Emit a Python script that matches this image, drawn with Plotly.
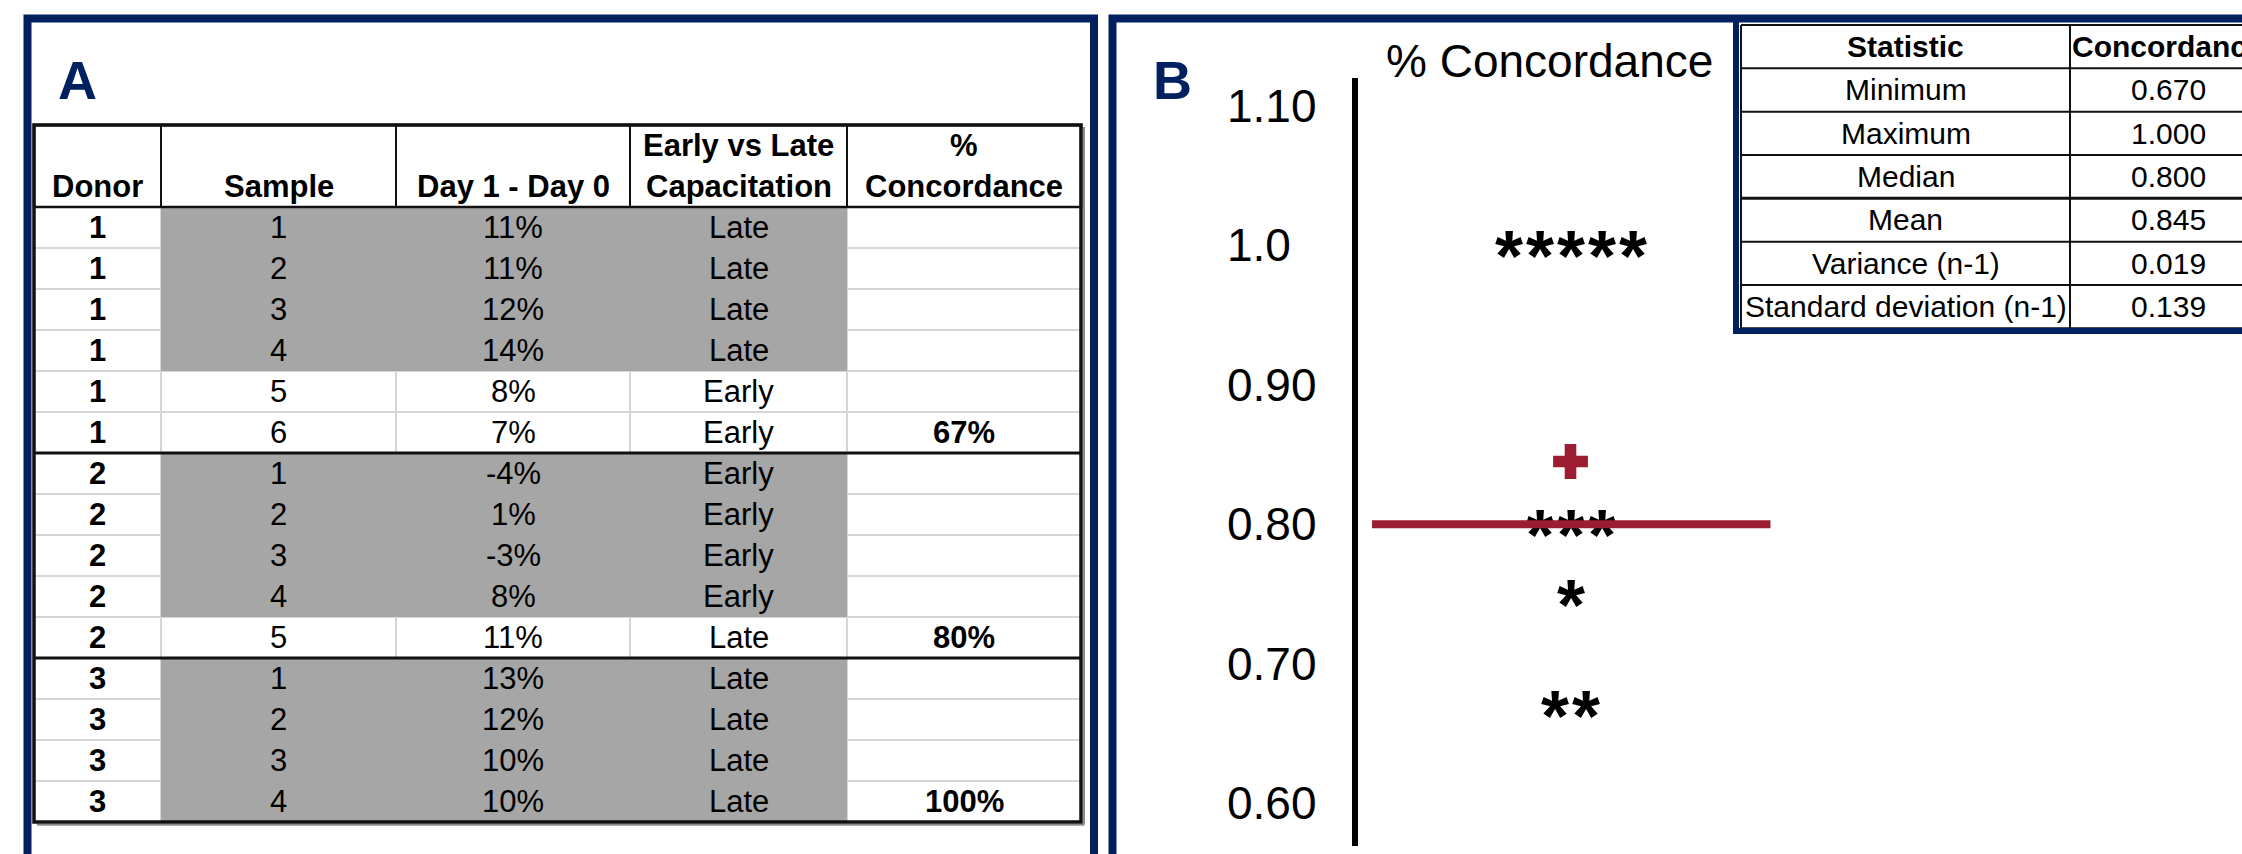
import plotly.graph_objects as go
from collections import Counter

W, H = 2242, 854
FONT = "Liberation Sans, Arial, Helvetica, sans-serif"
NAVY = "#002060"
RED = "#9c1c31"
GRAY_FILL = "#a6a6a6"
GRID_LIGHT = "#d6d6d6"

# ---------------- Panel A: per-sample capacitation table ----------------
donor = [1, 1, 1, 1, 1, 1, 2, 2, 2, 2, 2, 3, 3, 3, 3]
sample = [1, 2, 3, 4, 5, 6, 1, 2, 3, 4, 5, 1, 2, 3, 4]
day1_minus_day0 = [11, 11, 12, 14, 8, 7, -4, 1, -3, 8, 11, 13, 12, 10, 10]
capacitation = ["Late", "Late", "Late", "Late", "Early", "Early",
                "Early", "Early", "Early", "Early", "Late",
                "Late", "Late", "Late", "Late"]
highlighted = [1, 1, 1, 1, 0, 0, 1, 1, 1, 1, 0, 1, 1, 1, 1]
donor_ids = [1, 2, 3]
donor_concordance = [67, 80, 100]
header_top = ["", "", "", "Early vs Late", "%"]
header_bottom = ["Donor", "Sample", "Day 1 - Day 0", "Capacitation", "Concordance"]

# ---------------- Panel B: concordance dot plot + summary ----------------
concordance = [1.00, 1.00, 1.00, 1.00, 1.00, 0.80, 0.80, 0.80, 0.75, 0.67, 0.67]
stat_names = ["Minimum", "Maximum", "Median", "Mean",
              "Variance (n-1)", "Standard deviation (n-1)"]
stat_values = [0.670, 1.000, 0.800, 0.845, 0.019, 0.139]
stat_header = ["Statistic", "Concordance"]
tick_values = [1.10, 1.00, 0.90, 0.80, 0.70, 0.60]
tick_labels = ["1.10", "1.0", "0.90", "0.80", "0.70", "0.60"]

median_value = stat_values[stat_names.index("Median")]
mean_value = stat_values[stat_names.index("Mean")]


def xdomain(left_px, right_px):
    return [left_px / W, right_px / W]


def ydomain(top_px, bottom_px):
    return [1 - bottom_px / H, 1 - top_px / H]


fig = go.Figure()
shapes = []
annotations = []

# ======== Table A layout (x in pixels from the table edge, y in rows) ========
A_LEFT = 34
A_COL_W = [127, 235, 234, 217, 234]
A_BODY_TOP = 207
A_ROW_H = 41
col_edges = [0]
for w in A_COL_W:
    col_edges.append(col_edges[-1] + w)
col_mid = [(a + b) / 2 for a, b in zip(col_edges[:-1], col_edges[1:])]
n_rows = len(donor)
n_cols = len(A_COL_W)
t_right = col_edges[-1]

# gray highlight of sample / delta / capacitation cells
z = [[1 if (highlighted[i] and 1 <= j <= 3) else None for j in range(n_cols)]
     for i in range(n_rows)]
fig.add_trace(go.Heatmap(
    z=z, x=col_edges, y=list(range(n_rows + 1)),
    colorscale=[[0, GRAY_FILL], [1, GRAY_FILL]], zmin=0, zmax=1,
    showscale=False, hoverinfo="skip", xaxis="x2", yaxis="y2"))

# light cell grid (hidden beneath the gray fill)
for i in range(1, n_rows):
    shapes.append(dict(type="line", xref="x2", yref="y2", x0=0, x1=t_right, y0=i, y1=i,
                       line=dict(color=GRID_LIGHT, width=2), layer="below"))
for e in col_edges[1:-1]:
    shapes.append(dict(type="line", xref="x2", yref="y2", x0=e, x1=e, y0=0, y1=n_rows,
                       line=dict(color=GRID_LIGHT, width=2), layer="below"))

# header box and column separators
shapes.append(dict(type="rect", xref="x2", yref="y2", x0=0, x1=t_right, y0=-2, y1=0,
                   line=dict(color="#111111", width=2.5)))
for e in col_edges[1:-1]:
    shapes.append(dict(type="line", xref="x2", yref="y2", x0=e, x1=e, y0=-2, y1=0,
                       line=dict(color="#111111", width=2)))

# separators between donors
for i in range(1, n_rows):
    if donor[i] != donor[i - 1]:
        shapes.append(dict(type="line", xref="x2", yref="y2", x0=0, x1=t_right, y0=i, y1=i,
                           line=dict(color="#111111", width=3)))

# outer frame with a soft shadow
shapes.append(dict(type="line", xref="x2", yref="y2", x0=t_right + 3, x1=t_right + 3,
                   y0=-1.95, y1=n_rows + 0.07, line=dict(color="#8c8c8c", width=2)))
shapes.append(dict(type="line", xref="x2", yref="y2", x0=3, x1=t_right + 3,
                   y0=n_rows + 0.07, y1=n_rows + 0.07, line=dict(color="#8c8c8c", width=2)))
shapes.append(dict(type="rect", xref="x2", yref="y2", x0=0, x1=t_right, y0=-2, y1=n_rows,
                   line=dict(color="#111111", width=3.5)))

TXT_A = dict(family=FONT, size=31, color="black")


def cell_text(x, y, text, xref="x2", yref="y2", font=TXT_A):
    annotations.append(dict(x=x, y=y, xref=xref, yref=yref, text=text, showarrow=False,
                            xanchor="center", yanchor="middle", font=font))


for j in range(n_cols):
    if header_top[j]:
        cell_text(col_mid[j], -1.5, "<b>%s</b>" % header_top[j])
    cell_text(col_mid[j], -0.5, "<b>%s</b>" % header_bottom[j])

for i in range(n_rows):
    cell_text(col_mid[0], i + 0.5, "<b>%d</b>" % donor[i])
    cell_text(col_mid[1], i + 0.5, str(sample[i]))
    cell_text(col_mid[2], i + 0.5, "%d%%" % day1_minus_day0[i])
    cell_text(col_mid[3], i + 0.5, capacitation[i])
for d, c in zip(donor_ids, donor_concordance):
    last_row = max(i for i in range(n_rows) if donor[i] == d)
    cell_text(col_mid[4], last_row + 0.5, "<b>%d%%</b>" % c)

# ======== Panel B: concordance dot plot ========
B_CENTER_PX = 1570.5
B_UNIT_PX = 31
B_X_PX = (1358, 1790)
B_Y_PX = (78, 846)
Y_RANGE = [0.5692, 1.1201]

# spread equal values side by side around the centre
counts = Counter(concordance)
seen = {}
point_x = []
for v in concordance:
    k = seen.get(v, 0)
    seen[v] = k + 1
    point_x.append(k - (counts[v] - 1) / 2)

STAR = dict(family=FONT, size=72, color="black")
for px_, v in zip(point_x, concordance):
    annotations.append(dict(x=px_, y=v, xref="x", yref="y", text="<b>*</b>", showarrow=False,
                            xanchor="center", yanchor="middle", yshift=-11, font=STAR))

# mean marker
fig.add_trace(go.Scatter(x=[0], y=[mean_value], mode="markers", hoverinfo="skip",
                         marker=dict(symbol="cross", size=29, color=RED, line=dict(width=0)),
                         xaxis="x", yaxis="y", showlegend=False))

# median bar, drawn over the points
MEDIAN_HALF = 6.45
annotations.append(dict(x=MEDIAN_HALF, y=median_value, ax=-MEDIAN_HALF, ay=median_value,
                        xref="x", yref="y", axref="x", ayref="y", text="", showarrow=True,
                        arrowhead=0, arrowwidth=8, arrowcolor=RED, standoff=0,
                        startstandoff=0))

# axis tick labels (left aligned)
for tv, tl in zip(tick_values, tick_labels):
    annotations.append(dict(x=1225 / W, y=tv, xref="paper", yref="y", text=tl,
                            showarrow=False, xanchor="left", yanchor="middle",
                            font=dict(family=FONT, size=46, color="black")))

annotations.append(dict(x=1384 / W, y=1 - 60.5 / H, xref="paper", yref="paper",
                        text="% Concordance", showarrow=False, xanchor="left",
                        yanchor="middle", font=dict(family=FONT, size=46, color="black")))

# ======== Summary statistics table ========
S_LEFT = 1741
S_TOP = 25
S_ROW_H = 43.33
S_COL_EDGES = [0, 329, 525]
s_mid = [(a + b) / 2 for a, b in zip(S_COL_EDGES[:-1], S_COL_EDGES[1:])]
s_rows = len(stat_names) + 1

for r in range(s_rows + 1):
    shapes.append(dict(type="line", xref="x3", yref="y3", x0=0, x1=S_COL_EDGES[-1], y0=r, y1=r,
                       line=dict(color="#111111", width=3 if r == 4 else 2)))
for e in S_COL_EDGES[:-1]:
    shapes.append(dict(type="line", xref="x3", yref="y3", x0=e, x1=e, y0=0, y1=s_rows,
                       line=dict(color="#111111", width=2)))

for j, h in enumerate(stat_header):
    cell_text(s_mid[j], 0.5, "<b>%s</b>" % h, "x3", "y3",
              dict(family=FONT, size=30, color="black"))
for i, (nm, val) in enumerate(zip(stat_names, stat_values)):
    cell_text(s_mid[0], i + 1.5, nm, "x3", "y3", dict(family=FONT, size=30, color="black"))
    cell_text(s_mid[1], i + 1.5, "%.3f" % val, "x3", "y3",
              dict(family=FONT, size=30, color="black"))

# ======== Panel frames and letters ========
BORDER = 8
shapes.append(dict(type="rect", xref="paper", yref="paper",
                   x0=27.5 / W, x1=1094 / W, y0=-0.05, y1=1 - 18.5 / H,
                   line=dict(color=NAVY, width=BORDER)))
shapes.append(dict(type="rect", xref="paper", yref="paper",
                   x0=1112.5 / W, x1=1.05, y0=-0.05, y1=1 - 18.5 / H,
                   line=dict(color=NAVY, width=BORDER)))
shapes.append(dict(type="line", xref="paper", yref="paper",
                   x0=1736 / W, x1=1736 / W, y0=1 - 334 / H, y1=1 - 18 / H,
                   line=dict(color=NAVY, width=6)))
shapes.append(dict(type="line", xref="paper", yref="paper",
                   x0=1733 / W, x1=1.02, y0=1 - 331 / H, y1=1 - 331 / H,
                   line=dict(color=NAVY, width=6)))

for letter, lx in (("A", 56), ("B", 1151)):
    annotations.append(dict(x=lx / W, y=1 - 80 / H, xref="paper", yref="paper",
                            text="<b>%s</b>" % letter, showarrow=False, xanchor="left",
                            yanchor="middle", font=dict(family=FONT, size=54, color=NAVY)))

hidden = dict(visible=False, fixedrange=True)
fig.update_layout(
    width=W, height=H, autosize=False,
    margin=dict(l=0, r=0, t=0, b=0, pad=0),
    paper_bgcolor="white", plot_bgcolor="rgba(0,0,0,0)",
    showlegend=False,
    xaxis=dict(domain=xdomain(*B_X_PX),
               range=[(B_X_PX[0] - B_CENTER_PX) / B_UNIT_PX, (B_X_PX[1] - B_CENTER_PX) / B_UNIT_PX],
               **hidden),
    yaxis=dict(domain=ydomain(*B_Y_PX), range=Y_RANGE, showline=True, linewidth=6,
               linecolor="black", showticklabels=False, ticks="", showgrid=False,
               zeroline=False, fixedrange=True, anchor="x"),
    xaxis2=dict(domain=xdomain(30, 1088), range=[30 - A_LEFT, 1088 - A_LEFT],
                anchor="y2", **hidden),
    yaxis2=dict(domain=ydomain(116, 832),
                range=[(832 - A_BODY_TOP) / A_ROW_H, (116 - A_BODY_TOP) / A_ROW_H],
                anchor="x2", **hidden),
    xaxis3=dict(domain=xdomain(1738, W), range=[1738 - S_LEFT, W - S_LEFT],
                anchor="y3", **hidden),
    yaxis3=dict(domain=ydomain(21, 334),
                range=[(334 - S_TOP) / S_ROW_H, (21 - S_TOP) / S_ROW_H],
                anchor="x3", **hidden),
    shapes=shapes,
    annotations=annotations,
)

fig.write_html("out.html")
